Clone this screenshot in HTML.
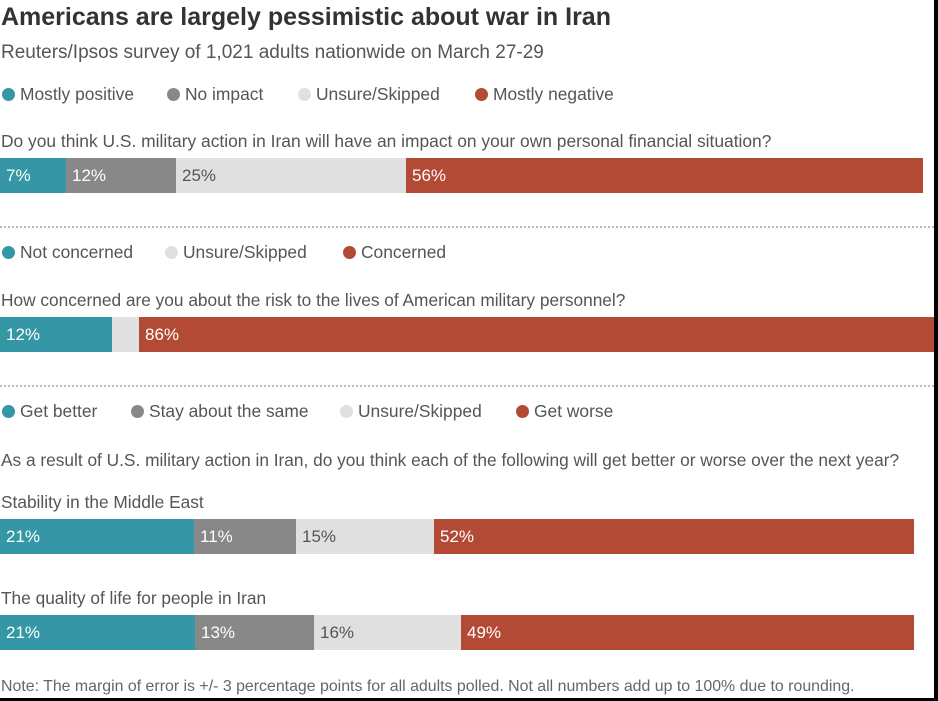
<!DOCTYPE html>
<html><head><meta charset="utf-8"><style>
body{margin:0;width:938px;height:701px;background:#000;overflow:hidden;font-family:"Liberation Sans",sans-serif}
#c{position:absolute;left:0;top:0;width:934px;height:698px;background:#fff}
.t{position:absolute;left:1px;white-space:nowrap;color:#444}
.bar{position:absolute;height:35px}
.bar div{position:absolute;top:0;height:35px;box-sizing:border-box;padding-left:6px;line-height:35px;font-size:17px;color:#fff}
.dot{position:absolute;width:13px;height:13px;border-radius:50%}
.lt2{position:absolute;font-size:17.4px;color:#555;white-space:nowrap}
.hr{position:absolute;left:0;width:934px;border-top:2px dotted #bbb}
.tl{background:#3596a5}.gr{background:#888}.lt{background:#e0e0e0}.rd{background:#b34a35}
</style></head><body><div id="c">
<div class="t" style="top:3px;font-size:25px;font-weight:bold;color:#333">Americans are largely pessimistic about war in Iran</div>
<div class="t" style="top:42px;font-size:19px;color:#555">Reuters/Ipsos survey of 1,021 adults nationwide on March 27-29</div>

<div class="dot tl" style="left:2px;top:88px"></div><div class="lt2" style="left:20px;top:84px">Mostly positive</div>
<div class="dot gr" style="left:167px;top:88px"></div><div class="lt2" style="left:185px;top:84px">No impact</div>
<div class="dot lt" style="left:298px;top:88px"></div><div class="lt2" style="left:316px;top:84px">Unsure/Skipped</div>
<div class="dot rd" style="left:475px;top:88px"></div><div class="lt2" style="left:493px;top:84px">Mostly negative</div>

<div class="t" style="top:131px;font-size:17.4px;color:#555">Do you think U.S. military action in Iran will have an impact on your own personal financial situation?</div>
<div class="bar" style="top:158px;left:0">
<div class="tl" style="left:0;width:66px">7%</div><div class="gr" style="left:66px;width:110px">12%</div><div class="lt" style="left:176px;width:230px;color:#555">25%</div><div class="rd" style="left:406px;width:517px">56%</div></div>
<div class="hr" style="top:226px"></div>

<div class="dot tl" style="left:2px;top:246px"></div><div class="lt2" style="left:20px;top:242px">Not concerned</div>
<div class="dot lt" style="left:165px;top:246px"></div><div class="lt2" style="left:183px;top:242px">Unsure/Skipped</div>
<div class="dot rd" style="left:343px;top:246px"></div><div class="lt2" style="left:361px;top:242px">Concerned</div>

<div class="t" style="top:290px;font-size:17.3px;color:#555">How concerned are you about the risk to the lives of American military personnel?</div>
<div class="bar" style="top:317px;left:0">
<div class="tl" style="left:0;width:112px">12%</div><div class="lt" style="left:112px;width:27px"></div><div class="rd" style="left:139px;width:795px">86%</div></div>
<div class="hr" style="top:385px"></div>

<div class="dot tl" style="left:2px;top:405px"></div><div class="lt2" style="left:20px;top:401px">Get better</div>
<div class="dot gr" style="left:131px;top:405px"></div><div class="lt2" style="left:149px;top:401px">Stay about the same</div>
<div class="dot lt" style="left:340px;top:405px"></div><div class="lt2" style="left:358px;top:401px">Unsure/Skipped</div>
<div class="dot rd" style="left:516px;top:405px"></div><div class="lt2" style="left:534px;top:401px">Get worse</div>

<div class="t" style="top:450px;font-size:17.3px;color:#555">As a result of U.S. military action in Iran, do you think each of the following will get better or worse over the next year?</div>
<div class="t" style="top:492px;font-size:17.3px;color:#555">Stability in the Middle East</div>
<div class="bar" style="top:519px;left:0">
<div class="tl" style="left:0;width:194px">21%</div><div class="gr" style="left:194px;width:102px">11%</div><div class="lt" style="left:296px;width:138px;color:#555">15%</div><div class="rd" style="left:434px;width:480px">52%</div></div>
<div class="t" style="top:588px;font-size:17.3px;color:#555">The quality of life for people in Iran</div>
<div class="bar" style="top:615px;left:0">
<div class="tl" style="left:0;width:195px">21%</div><div class="gr" style="left:195px;width:119px">13%</div><div class="lt" style="left:314px;width:147px;color:#555">16%</div><div class="rd" style="left:461px;width:453px">49%</div></div>
<div class="t" style="top:678px;font-size:15.9px;color:#666">Note:  The margin of error is +/- 3 percentage points for all adults polled. Not all numbers add up to 100% due to rounding.</div>
</div></body></html>
